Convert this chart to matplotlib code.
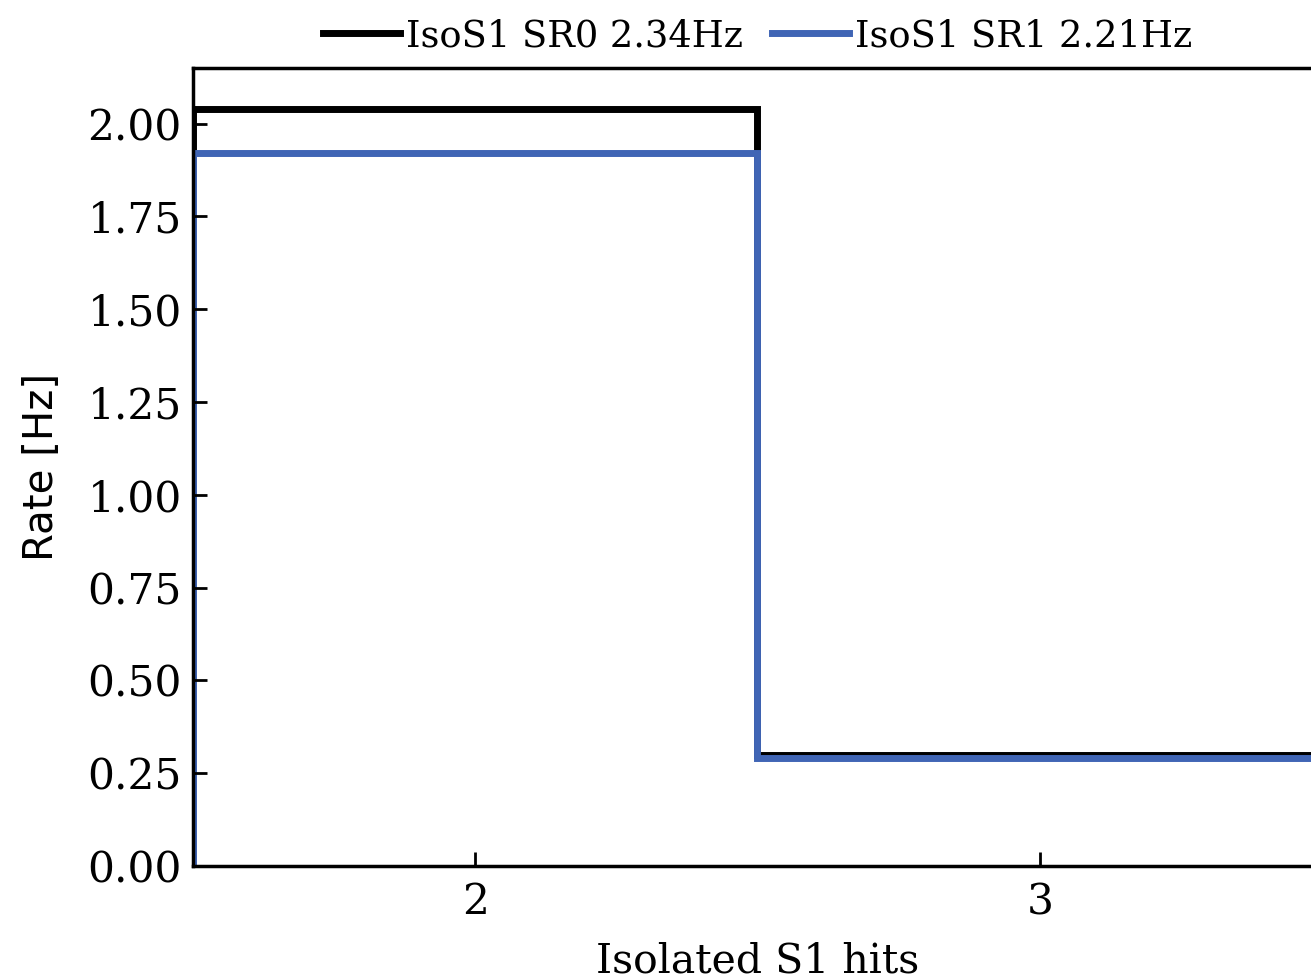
import matplotlib
matplotlib.use("Agg")
import matplotlib.pyplot as plt
from matplotlib.lines import Line2D
import numpy as np

# Isolated S1 hit multiplicity bins and rates
hits = [2, 3]
rate_sr0 = [2.04, 0.30]
rate_sr1 = [1.92, 0.29]
labels = ["IsoS1 SR0 2.34Hz", "IsoS1 SR1 2.21Hz"]
colors = ["black", "#4065b5"]

plt.rcParams["font.family"] = "DejaVu Serif"

fig = plt.figure(figsize=(13.11, 9.8), dpi=100)
ax = fig.add_axes([0.1472, 0.1163, 0.8612, 0.8143])

edges = np.concatenate([np.array(hits) - 0.5, [hits[-1] + 0.5]])
for vals, col in zip([rate_sr0, rate_sr1], colors):
    ax.stairs(vals, edges, baseline=0, color=col, linewidth=5)

ax.set_xlim(edges[0], edges[-1])
ax.set_ylim(0, 2.15)
ax.set_xticks(hits)
ax.set_yticks(np.arange(0, 2.01, 0.25))
ax.yaxis.set_major_formatter(matplotlib.ticker.FormatStrFormatter("%.2f"))
ax.tick_params(direction="in", length=10, width=2, labelsize=30.5, pad=8)
ax.tick_params(axis="x", pad=11)
for s in ax.spines.values():
    s.set_linewidth(2.5)

ax.set_xlabel("Isolated S1 hits", fontsize=29.5, labelpad=13)
ax.set_ylabel("Rate [Hz]", fontsize=29, family="DejaVu Sans", labelpad=18)

handles = [Line2D([], [], color=c, linewidth=5) for c in colors]
ax.legend(handles, labels, loc="lower center", bbox_to_anchor=(0.5, 0.985),
          ncol=2, frameon=False, fontsize=26.5, handlelength=2.1,
          handletextpad=0.15, columnspacing=0.8, borderpad=0.2)

fig.savefig("out.png", dpi=100)
